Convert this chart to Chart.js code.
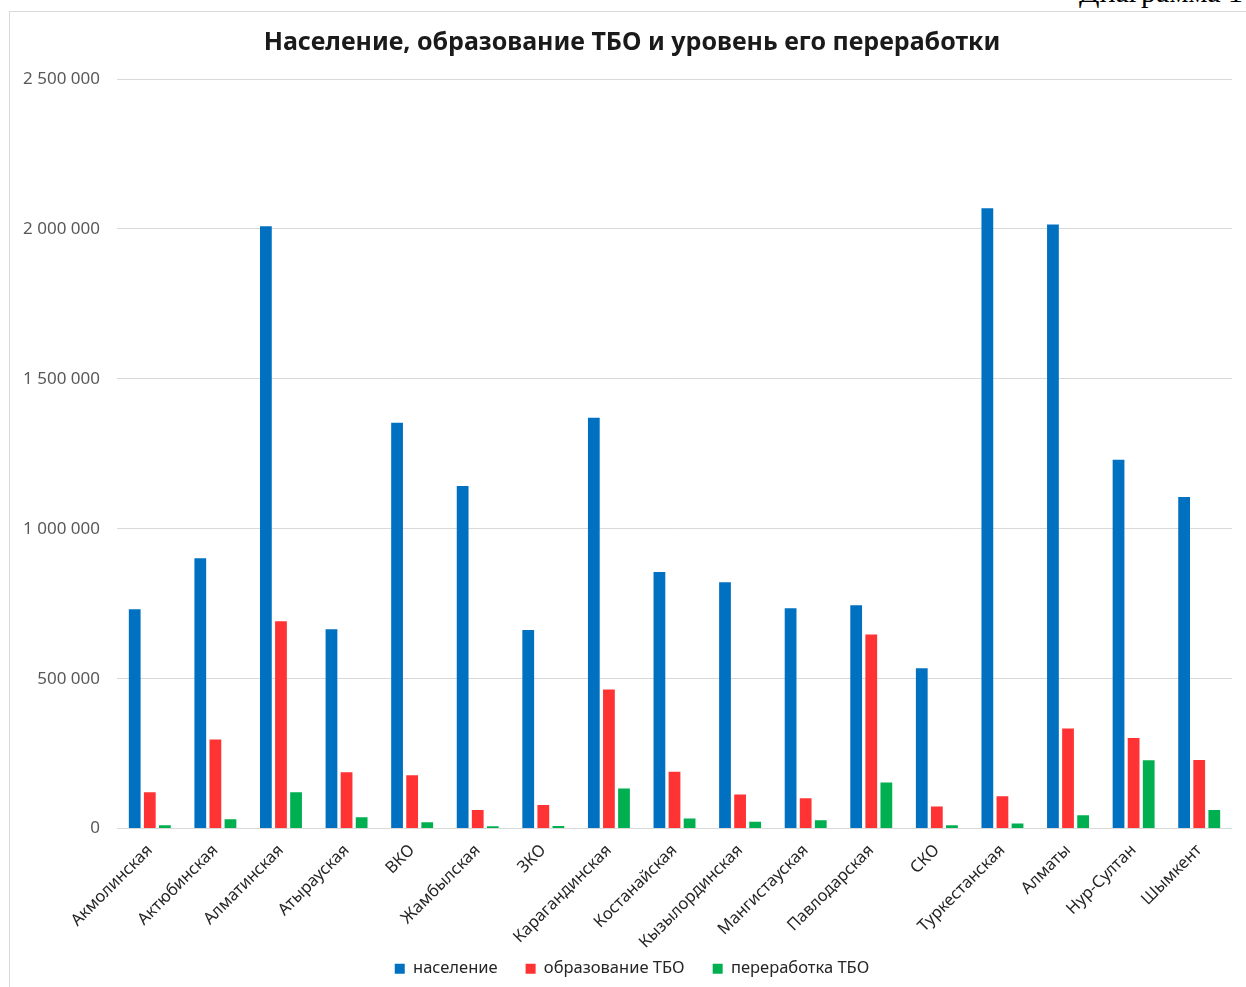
<!DOCTYPE html>
<html lang="ru">
<head>
<meta charset="utf-8">
<script src="https://cdn.jsdelivr.net/npm/chart.js@4"></script>
<style>
    html, body { margin: 0; padding: 0; background: #fff; overflow: hidden; }
    body { width: 1246px; height: 987px; position: relative; }
    #caption {
        position: absolute; right: 3px; top: -23px; line-height: 1;
        font-family: "Liberation Serif", "DejaVu Serif", serif;
        font-size: 30px; color: #000; white-space: nowrap;
    }
    #frame {
        position: absolute; left: 9px; top: 11px; width: 1250px; height: 990px;
        border-left: 1px solid #d9d9d9; border-top: 1px solid #d9d9d9;
    }
    #wrap { position: absolute; left: 10px; top: 12px; width: 1236px; height: 975px; }
</style>
</head>
<body>
<div id="caption">Диаграмма 1</div>
<div id="frame"></div>
<div id="wrap"><canvas id="wasteChart"></canvas></div>
<script>
// Регионы
const regions = [
    'Акмолинская', 'Актюбинская', 'Алматинская', 'Атырауская', 'ВКО',
    'Жамбылская', 'ЗКО', 'Карагандинская', 'Костанайская', 'Кызылординская',
    'Мангистауская', 'Павлодарская', 'СКО', 'Туркестанская', 'Алматы',
    'Нур-Султан', 'Шымкент'
];

// население
const population = [
    732000, 902000, 2009000, 665000, 1354000,
    1143000, 662000, 1370000, 856000, 822000,
    735000, 745000, 535000, 2069000, 2015000,
    1230000, 1106000
];

// образование ТБО
const wasteGenerated = [
    121000, 297000, 692000, 188000, 178000,
    62000, 79000, 464000, 190000, 114000,
    101000, 647000, 74000, 108000, 334000,
    302000, 229000
];

// переработка ТБО
const wasteRecycled = [
    11000, 31000, 121000, 38000, 21000,
    8000, 9000, 134000, 34000, 23000,
    28000, 154000, 11000, 17000, 45000,
    228000, 62000
];

const yTicks = [0, 500000, 1000000, 1500000, 2000000, 2500000];

const fmt = v => v.toString().replace(/\B(?=(\d{3})+(?!\d))/g, ' ');

// labels may spill outside their axis box (like in Excel)
const noLabelClip = scale => { scale._computeLabelArea = () => undefined; };

const ctx = document.getElementById('wasteChart').getContext('2d');
new Chart(ctx, {
    type: 'bar',
    data: {
        labels: regions,
        datasets: [
            { label: 'население', data: population, backgroundColor: '#0070C0' },
            { label: 'образование ТБО', data: wasteGenerated, backgroundColor: '#FF3333' },
            { label: 'переработка ТБО', data: wasteRecycled, backgroundColor: '#00B050' }
        ]
    },
    options: {
        responsive: true,
        maintainAspectRatio: false,
        animation: false,
        datasets: {
            bar: { categoryPercentage: 0.69, barPercentage: 0.78 }
        },
        layout: { padding: { left: 22, right: 14, top: 0, bottom: 0 } },
        plugins: {
            title: {
                display: true,
                text: 'Население, образование ТБО и уровень его переработки',
                color: '#1a1a1a',
                font: { family: 'Noto Sans', size: 25, weight: 'bold' },
                padding: { top: 16, bottom: 21 }
            },
            legend: {
                position: 'bottom',
                labels: {
                    color: '#262626',
                    font: { family: 'Noto Sans', size: 16.5 },
                    boxWidth: 10,
                    boxHeight: 10,
                    padding: 28
                }
            },
            tooltip: { enabled: false }
        },
        scales: {
            x: {
                grid: { display: false },
                border: { display: false },
                afterFit: scale => { scale.height = scale.height - 24; noLabelClip(scale); },
                ticks: {
                    color: '#262626',
                    font: { family: 'Noto Sans', size: 16.5 },
                    minRotation: 45,
                    maxRotation: 45,
                    padding: 4
                }
            },
            y: {
                min: 0,
                max: 2500000,
                afterBuildTicks: scale => { scale.ticks = yTicks.map(v => ({ value: v })); },
                afterFit: scale => { scale.width = 85; noLabelClip(scale); },
                grid: { color: '#d9d9d9', drawTicks: false, lineWidth: 1 },
                border: { display: false },
                ticks: {
                    color: '#595959',
                    font: { family: 'Noto Sans', size: 17 },
                    padding: 17,
                    callback: v => fmt(v)
                }
            }
        }
    }
});
</script>
</body>
</html>
